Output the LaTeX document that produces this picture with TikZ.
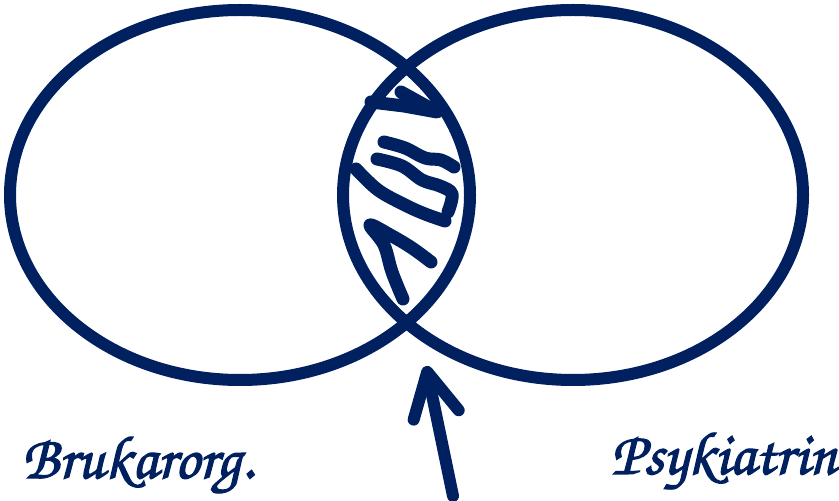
\documentclass[tikz,border=0pt]{standalone}
\usepackage{fontspec}
\newfontfamily\handfont[FakeBold=2]{TeX Gyre Chorus}
\usepackage{tikz}
\usetikzlibrary{arrows.meta}
\usetikzlibrary{shapes.geometric}
\definecolor{navy}{RGB}{0,32,96}

\begin{document}
\begin{tikzpicture}[x=0.5pt,y=-0.5pt,
    set/.style={draw=navy, line width=6pt, ellipse, minimum width=230pt, minimum height=185pt, inner sep=0pt},
    scribble/.style={navy, line width=6.5pt, line cap=round, line join=round},
    pointer/.style={navy, line width=6pt, line cap=round, line join=round, -{Straight Barb[length=22pt,width=23pt,round]}},
    setname/.style={navy, inner sep=0pt, font=\handfont\fontsize{30.5}{34}\selectfont}]
  \useasboundingbox (0,0) rectangle (839,501);
  % the two sets
  \node[set] (brukar) at (240,195) {};
  \node[set] (psyk) at (573,195) {};
  % hatching of the overlap
  \draw[scribble] (401,92) -- (437,112) -- (404,106) -- (371,102);
  \draw[scribble] plot[smooth, tension=0.6] coordinates {(384,142) (405,148) (425,158) (441,160) (454,167)};
  \draw[scribble] plot[smooth, tension=0.6] coordinates {(377,159) (402,166) (422,180) (440,186) (452,194) (448,212)};
  \draw[scribble] plot[smooth, tension=0.6] coordinates {(356,169) (378,190) (405,205) (425,214) (445,221)};
  \draw[scribble] plot[smooth, tension=0.6] coordinates {(403,299) (392,272) (384,245) (370,225) (392,236) (412,248) (431,262)};
  % arrow to the overlap
  \coordinate (tail) at (453,496);
  \coordinate (tip) at (426,366);
  \draw[pointer] (tail) -- (tip);
  \node[setname] (brukarname) at (138,465) {Brukarorg.};
  \node[setname] (psykname) at (724,461) {Psykiatrin};
\end{tikzpicture}
\end{document}
